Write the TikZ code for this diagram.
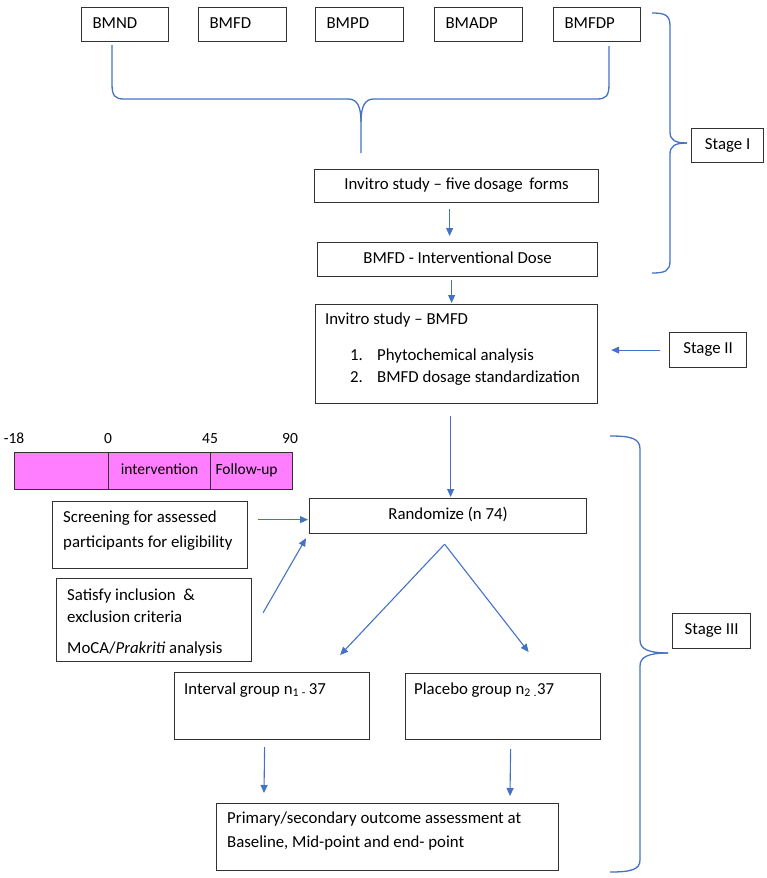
\documentclass[tikz,border=0pt]{standalone}
\usepackage{fontspec}
\setmainfont{Carlito}
\usetikzlibrary{arrows.meta,calc}
\definecolor{bluec}{RGB}{68,114,196}
\definecolor{boxc}{RGB}{50,50,50}
\definecolor{pinkc}{RGB}{255,125,255}
\newcommand{\fsz}{\fontsize{16.8}{22}\selectfont}
\newcommand{\fsm}{\fontsize{15.5}{19}\selectfont}
\tikzset{
  box/.style={draw=boxc, line width=1.2pt, inner sep=0pt, anchor=north west},
  cbox/.style={text height=11.8pt, text depth=4.2pt},
  lbox/.style={align=left, inner xsep=11pt},
  txt/.style={inner sep=0pt, anchor=base west},
  lab/.style={inner sep=0pt, anchor=base, font=\fsm},
  bar/.style={draw=boxc, line width=1.1pt, fill=pinkc, inner sep=0pt, anchor=north west,
    minimum height=37pt, font=\fsm, text height=10.9pt, text depth=3.9pt},
  arr/.style={draw=bluec, line width=1.1pt, -{Triangle[length=8pt,width=7pt]}},
  brace/.style={draw=bluec, line width=1.3pt}
}
\begin{document}
\begin{tikzpicture}[x=1pt, y=-1pt, font=\fsz]
\useasboundingbox (0,0) rectangle (767,878);

% top row
\node[box, cbox, lbox, minimum height=34pt, text width=65pt] (bmnd) at (81,7) {BMND};
\node[box, cbox, lbox, minimum height=34pt, text width=66pt] (bmfd) at (198,7) {BMFD};
\node[box, cbox, lbox, minimum height=34pt, text width=66pt] (bmpd) at (315,7) {BMPD};
\node[box, cbox, lbox, minimum height=34pt, text width=66pt] (bmadp) at (434,7) {BMADP};
\node[box, cbox, lbox, minimum height=34pt, text width=65pt] (bmfdp) at (553,7) {BMFDP};

% brace under top row
\draw[brace] (112,45) -- (112,84) .. controls (112,96) and (115,99) .. (124,99) -- (348,99)
  .. controls (357,99) and (361,106) .. (361,122) -- (361,153);
\draw[brace] (361,122) .. controls (361,106) and (365,99) .. (374,99) -- (597,99)
  .. controls (606,99) and (609,96) .. (609,84) -- (609,46);

% stage I
\node[box, cbox, minimum width=72pt, minimum height=34pt] (stageI) at (691,128) {Stage I};
\draw[brace] (652,13) .. controls (665,13) and (670,15) .. (670,26) -- (670,132)
  .. controls (670,140) and (675,143) .. (687,143);
\draw[brace] (687,143) .. controls (675,143) and (670,146) .. (670,154) -- (670,261)
  .. controls (670,271) and (665,273) .. (652,273);

\node[box, cbox, minimum width=284pt, minimum height=33pt] (five) at (314,169) {Invitro study -- five dosage\, forms};
\node[box, cbox, minimum width=280pt, minimum height=34pt] (dose) at (317,242) {BMFD - Interventional Dose};

\node[box, minimum width=282pt, minimum height=99pt] (bmfdbox) at (315,304) {};
\node[txt] (t1) at (325,324) {Invitro study -- BMFD};
\node[txt] (t2) at (350,360) {\makebox[27pt][l]{1.}Phytochemical analysis};
\node[txt] (t3) at (350,382) {\makebox[27pt][l]{2.}BMFD dosage standardization};

\node[box, cbox, minimum width=77pt, minimum height=35pt] (stageII) at (669,332) {Stage II};

% stage III
\node[box, minimum width=195pt, minimum height=67pt] (screen) at (52,501) {};
\node[txt] (s1) at (63,522) {Screening for assessed};
\node[txt] (s2) at (63,547) {participants for eligibility};

\node[box, cbox, minimum width=277pt, minimum height=35pt] (rand) at (309,498) {Randomize (n 74)};

\draw[arr, shorten <=6pt, shorten >=6pt] ([xshift=-7pt]five.south) -- ([xshift=-8pt]dose.north);
\draw[arr, shorten <=3pt, shorten >=1pt] ([xshift=-6pt]dose.south) -- ([xshift=-5pt]bmfdbox.north);
\draw[arr, shorten <=9pt, shorten >=13pt] (stageII.west) -- (stageII.west -| bmfdbox.east);
\draw[arr, shorten <=12pt, shorten >=1pt] ([xshift=-6pt]bmfdbox.south) -- ([xshift=2.5pt]rand.north);

% timeline
\node[lab] (l18) at (14,443) {-18};
\node[lab] (l0) at (108,443) {0};
\node[lab] (l45) at (210,443) {45};
\node[lab] (l90) at (290,443) {90};
\node[bar, minimum width=94pt] (seg1) at (14,452) {};
\node[bar, minimum width=102pt] (seg2) at (108,452) {intervention};
\node[bar, minimum width=82pt, text width=72pt, align=left, inner xsep=5pt] (seg3) at (210,452) {Follow-up};

\node[box, minimum width=195pt, minimum height=83pt] (satisfy) at (56,578) {};
\node[txt] (sa1) at (67,600) {Satisfy inclusion~ \&};
\node[txt] (sa2) at (67,622) {exclusion criteria};
\node[txt] (sa3) at (67,653) {MoCA/\textit{Prakriti} analysis};

\node[box, minimum width=195pt, minimum height=67pt] (interval) at (174,672) {};
\node[txt] (it) at (184,694) {Interval group n\textsubscript{1}\,\textsubscript{-}\,37};
\node[box, minimum width=195pt, minimum height=66pt] (placebo) at (405,673) {};
\node[txt] (pt) at (414,694) {Placebo group n\textsubscript{2}\,\textsubscript{.}37};

\node[box, minimum width=342pt, minimum height=67pt] (primary) at (216,803) {};
\node[txt] (p1) at (227,823) {Primary/secondary outcome assessment at};
\node[txt] (p2) at (227,847) {Baseline, Mid-point and end- point};

\node[box, cbox, minimum width=78pt, minimum height=35pt] (stageIII) at (672,613) {Stage III};
\draw[brace] (610,436) .. controls (630,436) and (640,438) .. (640,449) -- (640,640)
  .. controls (640,649) and (648,653) .. (668,653);
\draw[brace] (668,653) .. controls (648,653) and (640,657) .. (640,666) -- (640,860)
  .. controls (640,870) and (630,872) .. (610,872);

% connectors stage III
\draw[arr] ($(screen.east |- rand.west)+(10,3.5)$) -- ($(rand.west)+(-1,3.5)$);
\draw[arr] ($(satisfy.east)+(11,-7.5)$) -- ($(rand.south west)+(-3,4)$);
\coordinate (split) at ($(rand.south)+(-3.5,10)$);
\draw[arr] (split) -- ($(interval.north east)+(-30,-17)$);
\draw[arr] (split) -- ($(placebo.north)+(25.5,-21)$);
\draw[arr] ($(interval.south)+(-7.5,7)$) -- ($(primary.north west)+(48,-10)$);
\draw[arr] ($(placebo.south)+(7.5,9)$) -- ($(primary.north west)+(294,-7)$);
\end{tikzpicture}
\end{document}
